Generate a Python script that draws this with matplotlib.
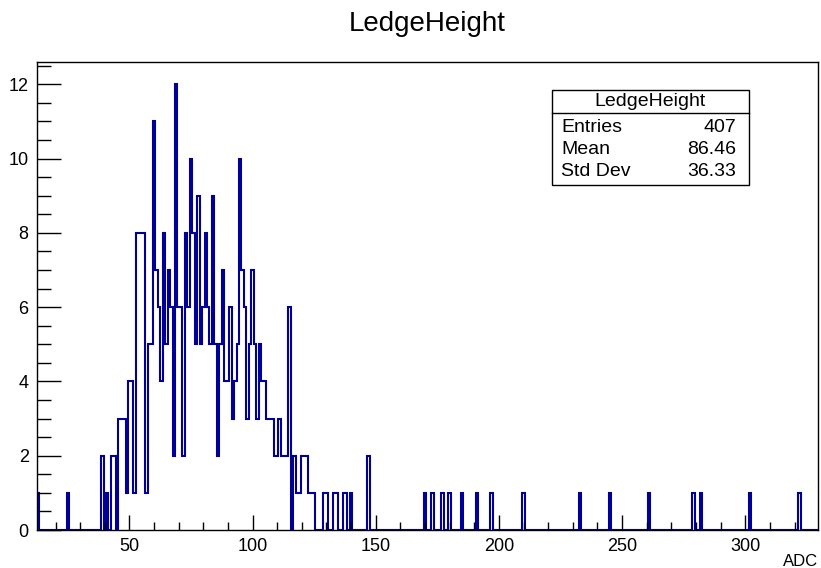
# LedgeHeight ADC histogram, ROOT style look-alike

import numpy as np
import matplotlib
matplotlib.use('Agg')
import matplotlib.pyplot as plt
from matplotlib.patches import Rectangle
from matplotlib.ticker import MultipleLocator

plt.rcParams['font.family'] = ['Liberation Sans', 'DejaVu Sans']

# ADC value (bin centre) -> entries, only non-empty bins
adc = [13, 25,
       39, 41, 43, 44, 46, 47, 48, 49, 50, 51, 52,
       53, 54, 55, 56, 57, 58, 59,
       60, 61, 62, 63, 64, 65, 66, 67, 68, 69,
       70, 71, 72, 73, 74, 75, 76, 77, 78, 79,
       80, 81, 82, 83, 84, 85, 86, 87, 88, 89,
       90, 91, 92, 93, 94, 95, 96, 97, 98, 99,
       100, 101, 102, 103, 104, 105, 106, 107, 108, 109,
       110, 111, 112, 113, 114, 115,
       117, 118, 119, 120, 121, 122, 123, 124, 125,
       129, 130, 133, 134, 137, 138, 140, 147,
       170, 173, 177, 180, 185, 191, 197, 210, 233, 245, 261, 279, 282, 302, 322]
counts = [1, 1,
          2, 1, 2, 2, 3, 3, 3, 1, 4, 4, 1,
          8, 8, 8, 8, 1, 5, 5,
          11, 7, 6, 4, 8, 5, 7, 6, 2, 12,
          6, 6, 2, 8, 6, 10, 8, 5, 9, 5,
          6, 8, 6, 5, 9, 5, 2, 5, 7, 4,
          4, 6, 3, 4, 5, 10, 7, 6, 3, 5,
          7, 5, 3, 5, 4, 4, 3, 3, 3, 2,
          2, 3, 2, 2, 2, 6,
          2, 1, 1, 2, 2, 2, 1, 1, 1,
          1, 1, 1, 1, 1, 1, 1, 2,
          1, 1, 1, 1, 1, 1, 1, 1, 1, 1, 1, 1, 1, 1, 1]

x_lo, x_hi = 12.5, 329.5
stats_title = 'LedgeHeight'
stats_rows = [('Entries', '407'), ('Mean', '86.46'), ('Std Dev', '36.33')]

# fill the full 1-ADC binning
edges = np.arange(x_lo, x_hi + 1, 1.0)
hist = np.zeros(len(edges) - 1)
for a, c in zip(adc, counts):
    hist[int(a - x_lo)] += c

fig = plt.figure(figsize=(8.21, 5.68), dpi=100)
ax = fig.add_axes([0.0451, 0.0669, 0.9512, 0.8239])

ax.stairs(hist, edges, color='#000099', linewidth=1.5)

ax.set_xlim(x_lo, x_hi)
ax.set_ylim(0, 12.6)

ax.xaxis.set_major_locator(MultipleLocator(50))
ax.xaxis.set_minor_locator(MultipleLocator(10))
ax.yaxis.set_major_locator(MultipleLocator(2))
ax.yaxis.set_minor_locator(MultipleLocator(0.5))
ax.tick_params(axis='x', which='major', direction='in', length=11, width=1, labelsize=13, pad=6)
ax.tick_params(axis='x', which='minor', direction='in', length=6, width=1)
ax.tick_params(axis='y', which='major', direction='in', length=17, width=1, labelsize=13, pad=6)
ax.tick_params(axis='y', which='minor', direction='in', length=10, width=1)
for s in ax.spines.values():
    s.set_linewidth(1)

fig.text(0.52, 0.958, 'LedgeHeight', ha='center', va='center', fontsize=20)
fig.text(0.9963, 0.012, 'ADC', ha='right', va='center', fontsize=12)

# stats box
bx0, bx1 = 552 / 821, 749 / 821
by0, by1 = 1 - 185 / 568, 1 - 90 / 568
fig.patches.append(Rectangle((bx0, by0), bx1 - bx0, by1 - by0, transform=fig.transFigure,
                             facecolor='white', edgecolor='black', linewidth=1, zorder=5))
hy = 1 - 113 / 568
fig.lines.append(plt.Line2D([bx0, bx1], [hy, hy], transform=fig.transFigure,
                            color='black', linewidth=1, zorder=6))
fig.text((bx0 + bx1) / 2, 1 - 101.5 / 568, stats_title, ha='center', va='center',
         fontsize=14, zorder=7)
for i, (name, val) in enumerate(stats_rows):
    yy = 1 - (127 + 22.5 * i) / 568
    fig.text(561 / 821, yy, name, ha='left', va='center', fontsize=14, zorder=7)
    fig.text(736 / 821, yy, val, ha='right', va='center', fontsize=14, zorder=7)

plt.savefig('out.png', dpi=100)
